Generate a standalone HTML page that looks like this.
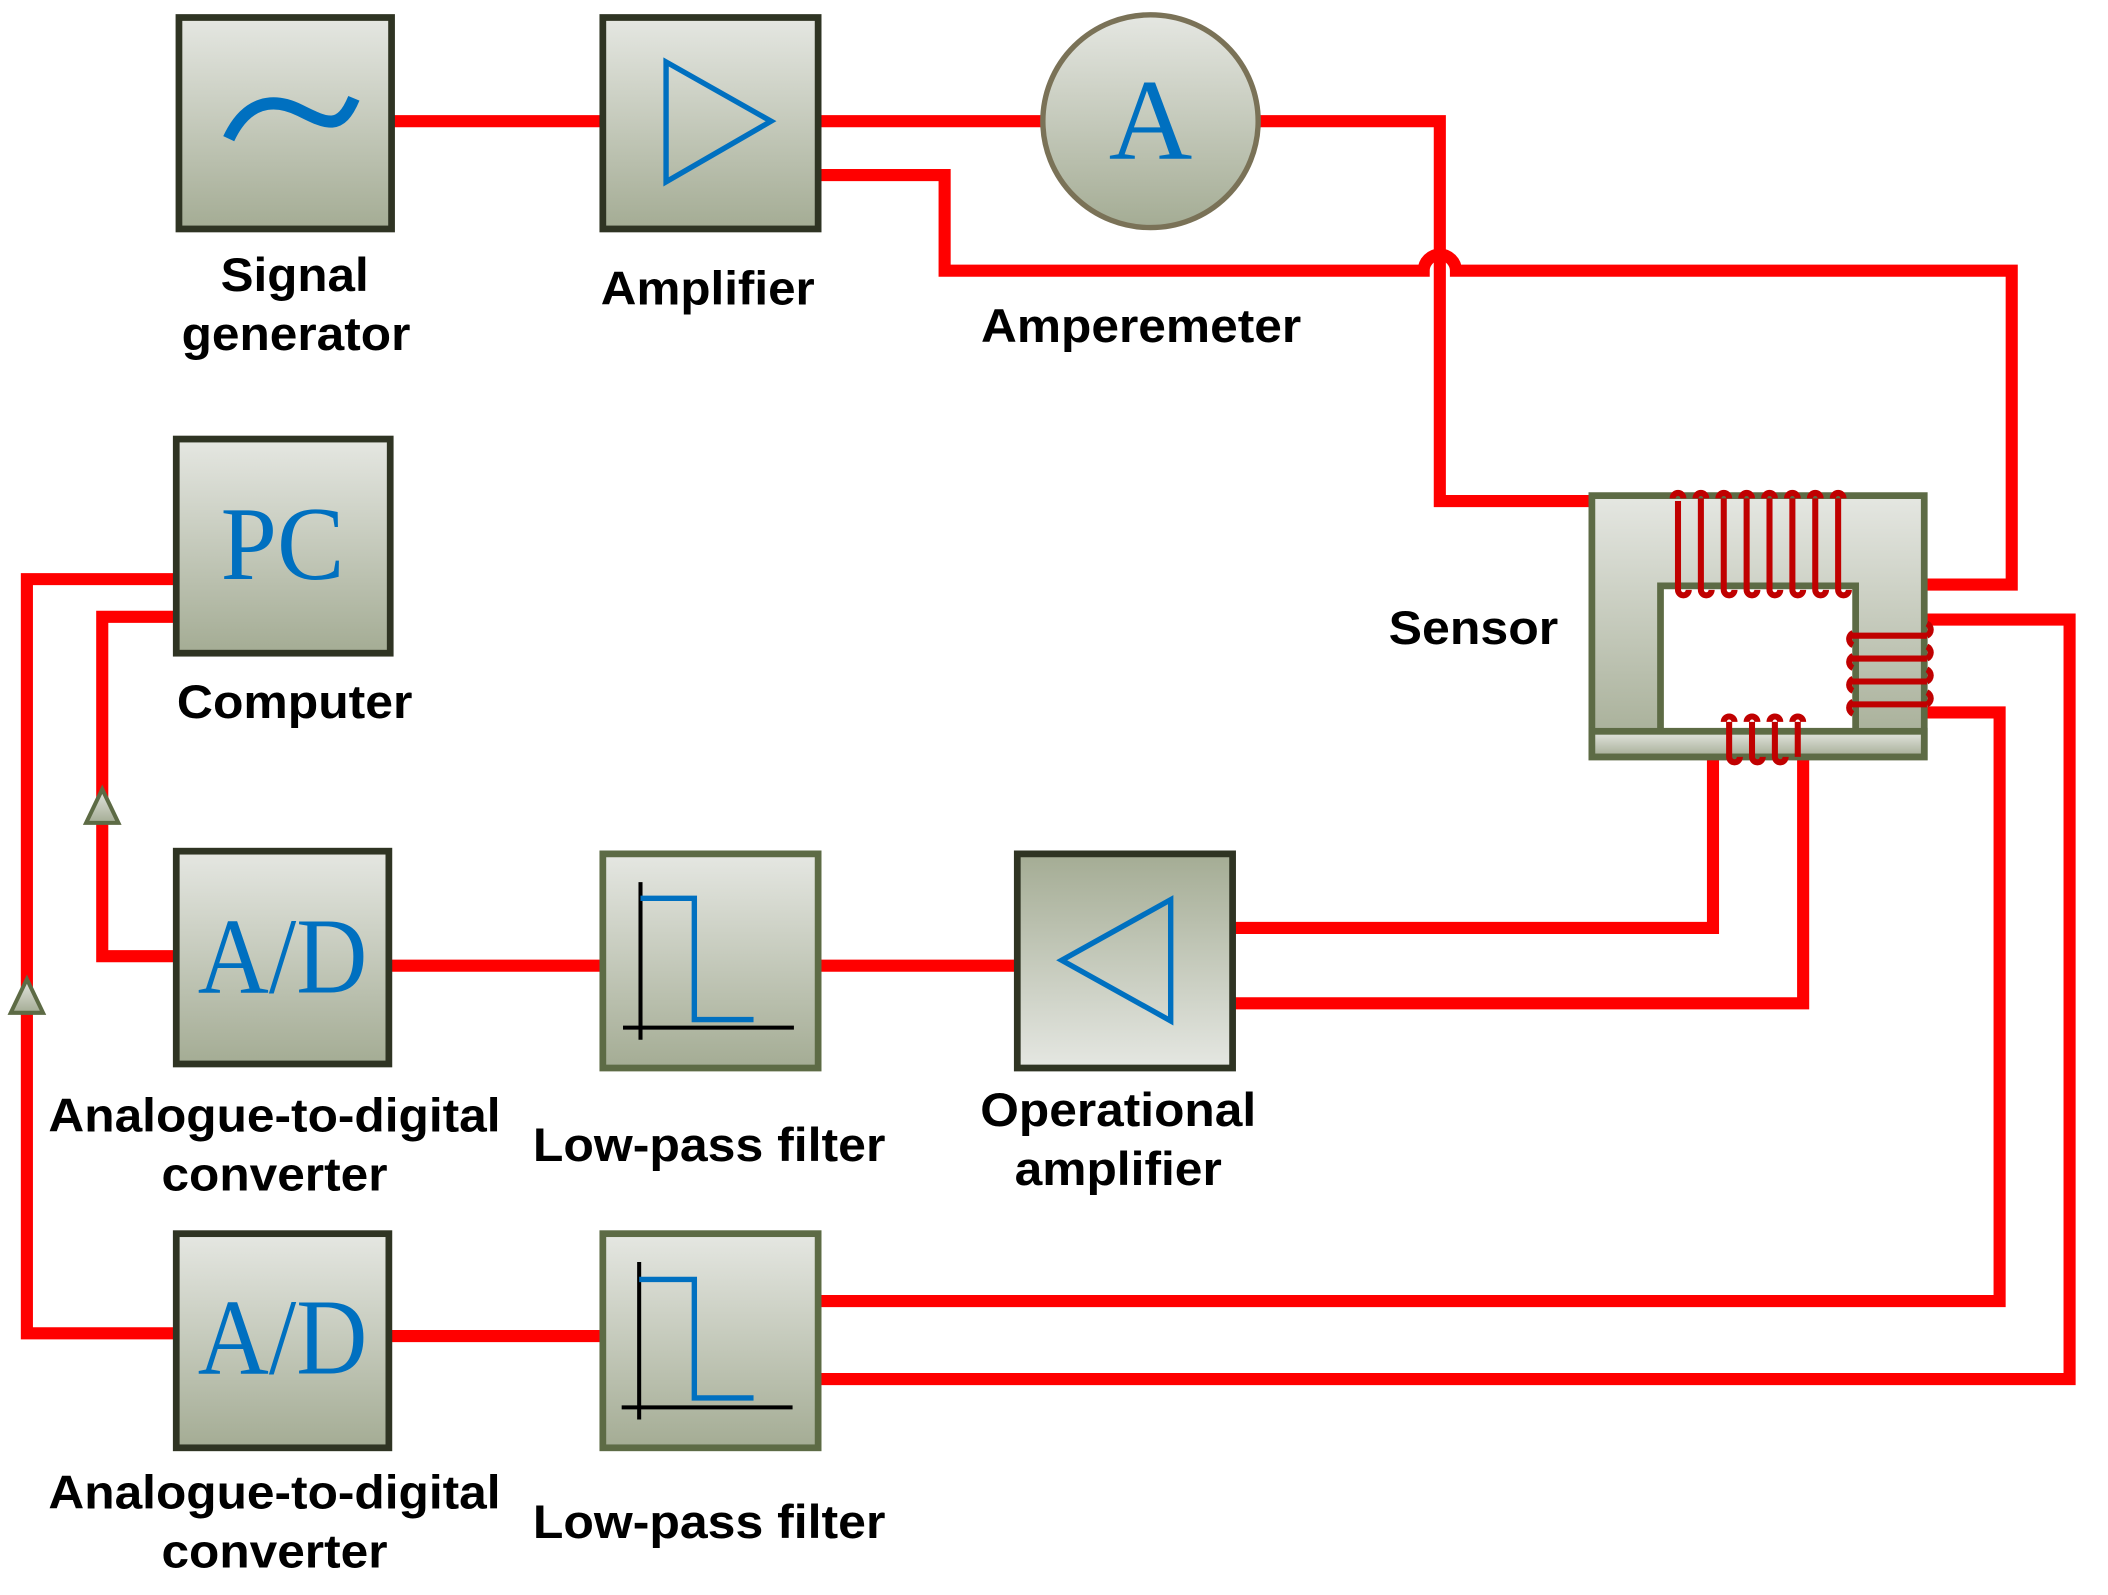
<!DOCTYPE html>
<html><head><meta charset="utf-8"><style>
html,body{margin:0;padding:0;background:#fff;}
svg{display:block;}
text{font-family:"Liberation Sans",Arial,sans-serif;font-weight:bold;fill:#000;}
.s{font-family:"Liberation Serif",serif;font-weight:normal;fill:#0070c0;}
</style></head><body>
<svg width="2108" height="1595" viewBox="0 0 1554 1176" preserveAspectRatio="none" xmlns="http://www.w3.org/2000/svg">
<defs>
<linearGradient id="g" x1="0" y1="0" x2="0" y2="1"><stop offset="0" stop-color="#e5e7e2"/><stop offset="1" stop-color="#a4ac94"/></linearGradient>
<linearGradient id="gi" x1="0" y1="1" x2="0" y2="0"><stop offset="0" stop-color="#e5e7e2"/><stop offset="1" stop-color="#a4ac94"/></linearGradient>
</defs>
<g transform="matrix(0.992,0,0,0.993,-2,0)">
<g fill="none" stroke="#ff0000" stroke-width="9" stroke-linejoin="miter">
<path d="M293,90 H450"/>
<path d="M610,90 H777"/>
<path d="M937,90 H1072 V372 H1245"/>
<path d="M610,130 H704 V201 H1060 A12,12 0 0 1 1084,201 H1497 V434 H1432"/>
<path d="M1432,460 H1540 V1024 H610"/>
<path d="M1432,529 H1488 V966 H610"/>
<path d="M1275,560 V689 H918"/>
<path d="M1342,560 V745 H918"/>
<path d="M291,717 H450"/>
<path d="M610,717 H758"/>
<path d="M291,992 H450"/>
<path d="M133,710 H78 V458 H133"/>
<path d="M133,990 H22 V430 H133"/>
</g>
<polygon points="78,586 66,611 90,611" fill="url(#g)" stroke="#5d6b45" stroke-width="3"/>
<polygon points="22,727 10,752 34,752" fill="url(#g)" stroke="#5d6b45" stroke-width="3"/>

<rect x="135" y="13" width="158" height="157" fill="url(#g)" stroke="#2f3423" stroke-width="5"/>
<path d="M172,103 C185,75 205,72 225,82 C245,92 255,97 265,73" fill="none" stroke="#0070c0" stroke-width="9"/>
<rect x="450" y="13" width="160" height="157" fill="url(#g)" stroke="#2f3423" stroke-width="5"/>
<polygon points="497,46 497,135 575,90" fill="none" stroke="#0070c0" stroke-width="4"/>
<ellipse cx="857" cy="90" rx="80" ry="79" fill="url(#g)" stroke="#7a7257" stroke-width="4"/>
<text class="s" x="857" y="118" font-size="86" text-anchor="middle">A</text>

<rect x="133" y="326" width="159" height="159" fill="url(#g)" stroke="#2f3423" stroke-width="5"/>
<text class="s" x="212" y="430" font-size="78" text-anchor="middle" textLength="92" lengthAdjust="spacingAndGlyphs">PC</text>

<rect x="133" y="632" width="158" height="158" fill="url(#g)" stroke="#2f3423" stroke-width="5"/>
<text class="s" x="212" y="737" font-size="80" text-anchor="middle" textLength="126" lengthAdjust="spacingAndGlyphs">A/D</text>
<rect x="133" y="916" width="158" height="159" fill="url(#g)" stroke="#2f3423" stroke-width="5"/>
<text class="s" x="212" y="1020" font-size="80" text-anchor="middle" textLength="126" lengthAdjust="spacingAndGlyphs">A/D</text>

<rect x="450" y="634" width="160" height="159" fill="url(#g)" stroke="#5d6b45" stroke-width="5"/>
<path d="M478,655 V772 M465,763 H592" stroke="#000" stroke-width="3" fill="none"/>
<path d="M478,667 H518 V757 H562" stroke="#0070c0" stroke-width="4" fill="none"/>
<rect x="450" y="916" width="160" height="159" fill="url(#g)" stroke="#5d6b45" stroke-width="5"/>
<path d="M477,937 V1054 M464,1045 H591" stroke="#000" stroke-width="3" fill="none"/>
<path d="M477,950 H518 V1038 H562" stroke="#0070c0" stroke-width="4" fill="none"/>

<rect x="758" y="634" width="160" height="159" fill="url(#gi)" stroke="#2f3423" stroke-width="5"/>
<polygon points="872,668 872,758 791,713" fill="none" stroke="#0070c0" stroke-width="4"/>

<!-- sensor -->
<rect x="1185" y="368" width="247" height="194" fill="url(#g)" stroke="#5d6b45" stroke-width="5"/>
<rect x="1236" y="435" width="145" height="108" fill="#fff" stroke="#5d6b45" stroke-width="5"/>
<rect x="1185" y="543" width="247" height="19" fill="url(#g)" stroke="#5d6b45" stroke-width="5"/>
<g fill="none" stroke="#c00000" stroke-width="4.5">
<path d="M1249,372 v66 a4,4 0 0 0 8,0 M1266,370 v68 a4,4 0 0 0 8,0 M1283,370 v68 a4,4 0 0 0 8,0 M1300,370 v68 a4,4 0 0 0 8,0 M1317,370 v68 a4,4 0 0 0 8,0 M1334,370 v68 a4,4 0 0 0 8,0 M1351,370 v68 a4,4 0 0 0 8,0 M1368,370 v68 a4,4 0 0 0 8,0"/>
<path d="M1245,370 a4,4 0 0 1 8,0 M1262,370 a4,4 0 0 1 8,0 M1279,370 a4,4 0 0 1 8,0 M1296,370 a4,4 0 0 1 8,0 M1313,370 a4,4 0 0 1 8,0 M1330,370 a4,4 0 0 1 8,0 M1347,370 a4,4 0 0 1 8,0 M1364,370 a4,4 0 0 1 8,0"/>
<path d="M1377,472 H1434 M1377,489 H1434 M1377,506 H1434 M1377,523 H1434"/>
<path d="M1379,479 a5,5 0 0 1 0,-9 M1379,496 a5,5 0 0 1 0,-9 M1379,513 a5,5 0 0 1 0,-9 M1379,530 a5,5 0 0 1 0,-9"/>
<path d="M1434,472 a5,5 0 0 0 0,-9 M1434,489 a5,5 0 0 0 0,-9 M1434,506 a5,5 0 0 0 0,-9 M1434,523 a5,5 0 0 0 0,-9"/>
<path d="M1287,536 v26 a4,4 0 0 0 8,0 M1304,536 v26 a4,4 0 0 0 8,0 M1321,536 v26 a4,4 0 0 0 8,0 M1338,536 v26"/>
<path d="M1283,536 a4,4 0 0 1 8,0 M1300,536 a4,4 0 0 1 8,0 M1317,536 a4,4 0 0 1 8,0 M1334,536 a4,4 0 0 1 8,0"/>
</g>

<g font-size="35" text-anchor="middle">
<text x="221" y="216" textLength="110" lengthAdjust="spacingAndGlyphs">Signal</text>
<text x="222" y="260" textLength="170" lengthAdjust="spacingAndGlyphs">generator</text>
<text x="528" y="226" textLength="159" lengthAdjust="spacingAndGlyphs">Amplifier</text>
<text x="850" y="254" textLength="238" lengthAdjust="spacingAndGlyphs">Amperemeter</text>
<text x="221" y="533" textLength="175" lengthAdjust="spacingAndGlyphs">Computer</text>
<text x="1097" y="478" textLength="126" lengthAdjust="spacingAndGlyphs">Sensor</text>
<text x="206" y="840" textLength="336" lengthAdjust="spacingAndGlyphs">Analogue-to-digital</text>
<text x="206" y="884" textLength="168" lengthAdjust="spacingAndGlyphs">converter</text>
<text x="529" y="862" textLength="262" lengthAdjust="spacingAndGlyphs">Low-pass filter</text>
<text x="833" y="836" textLength="205" lengthAdjust="spacingAndGlyphs">Operational</text>
<text x="833" y="880" textLength="154" lengthAdjust="spacingAndGlyphs">amplifier</text>
<text x="206" y="1120" textLength="336" lengthAdjust="spacingAndGlyphs">Analogue-to-digital</text>
<text x="206" y="1164" textLength="168" lengthAdjust="spacingAndGlyphs">converter</text>
<text x="529" y="1142" textLength="262" lengthAdjust="spacingAndGlyphs">Low-pass filter</text>
</g>
</g>
</svg>
</body></html>
